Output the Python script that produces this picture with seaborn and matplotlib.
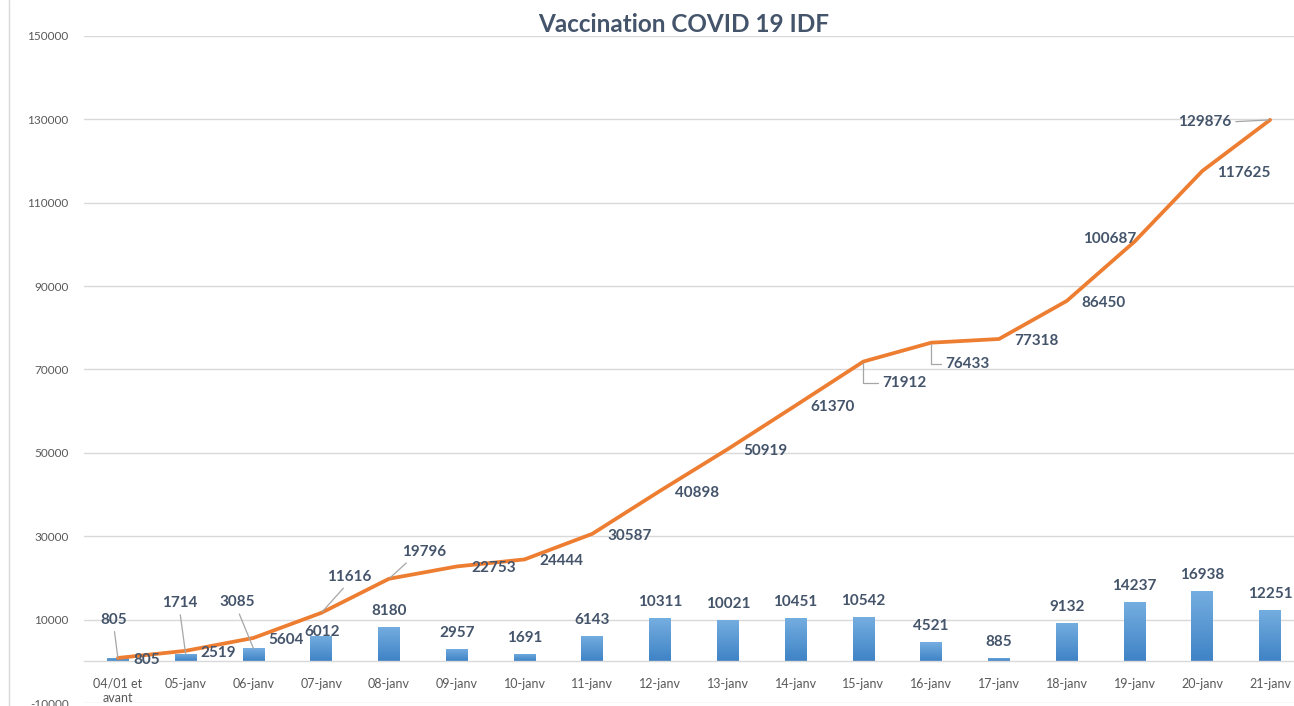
import numpy as np
import pandas as pd
import matplotlib
matplotlib.use("Agg")
import matplotlib.pyplot as plt
import seaborn as sns
from matplotlib.colors import LinearSegmentedColormap

# data
jours = ["04/01 et\navant", "05-janv", "06-janv", "07-janv", "08-janv", "09-janv",
         "10-janv", "11-janv", "12-janv", "13-janv", "14-janv", "15-janv",
         "16-janv", "17-janv", "18-janv", "19-janv", "20-janv", "21-janv"]
quotidien = [805, 1714, 3085, 6012, 8180, 2957, 1691, 6143, 10311, 10021,
             10451, 10542, 4521, 885, 9132, 14237, 16938, 12251]
cumul = [805, 2519, 5604, 11616, 19796, 22753, 24444, 30587, 40898, 50919,
         61370, 71912, 76433, 77318, 86450, 100687, 117625, 129876]
yticks = list(range(-10000, 150001, 20000))
titre = "Vaccination COVID 19 IDF"

df = pd.DataFrame({"jour": jours, "quotidien": quotidien, "cumul": cumul})

sns.set_theme(style="white")
plt.rcParams["font.family"] = ["Lato", "DejaVu Sans"]

LABEL = "#44546A"
TICK = "#595959"
GRID = "#D9D9D9"
LEADER = "#A6A6A6"

fig = plt.figure(figsize=(12.94, 7.06), dpi=100)
ax = fig.add_axes([84 / 1294, 3 / 706, 1220 / 1294, 667 / 706])

sns.barplot(data=df, x="jour", y="quotidien", color="#5B9BD5", width=0.32,
            errorbar=None, ax=ax, zorder=2)
sns.lineplot(data=df, x="jour", y="cumul", color="#ED7D31", linewidth=2.7,
             sort=False, ax=ax, zorder=4)

ax.set_xlim(-0.5, len(jours) - 0.5)
ax.set_ylim(-10000, 150000)

# gradient fill on bars (Excel style)
cmap = LinearSegmentedColormap.from_list("bleu", ["#3F83C6", "#75AEE0"])
grad = np.linspace(0, 1, 100).reshape(-1, 1)
for p in list(ax.patches):
    x0, y0 = p.get_x(), p.get_y()
    w, h = p.get_width(), p.get_height()
    im = ax.imshow(grad, extent=[x0, x0 + w, y0, y0 + h], origin="lower",
                   cmap=cmap, aspect="auto", zorder=2.5)
    im.set_clip_path(p)
    p.set_facecolor("none")
    p.set_edgecolor("none")
ax.set_xlim(-0.5, len(jours) - 0.5)
ax.set_ylim(-10000, 150000)

# axes styling
ax.set_yticks(yticks)
ax.set_yticklabels([str(v) for v in yticks])
ax.yaxis.grid(True, color=GRID, linewidth=1)
ax.xaxis.grid(False)
ax.set_axisbelow(True)
for s in ["top", "right", "left"]:
    ax.spines[s].set_visible(False)
ax.spines["bottom"].set_position(("data", 0))
ax.spines["bottom"].set_color(GRID)
ax.spines["bottom"].set_linewidth(1)
ax.tick_params(axis="y", length=0, pad=11, labelsize=8.5, labelcolor=TICK)
ax.tick_params(axis="x", length=0, pad=12, labelsize=9, labelcolor=TICK)
ax.set_xlabel("")
ax.set_ylabel("")

# bar labels: (dx, dy) in pixels, leader line flag
bar_pos = {0: (-4, 38, True), 1: (-6, 51, True), 2: (-16, 46, True), 3: (1, 4, False)}
for i, v in enumerate(quotidien):
    dx, dy, lead = bar_pos.get(i, (0, 16, False))
    kw = {}
    if lead:
        kw["arrowprops"] = dict(arrowstyle="-", color=LEADER, lw=0.9,
                                relpos=(0.5, 0), shrinkA=1, shrinkB=0)
    ax.annotate(str(v), xy=(i, v), xytext=(dx, dy), textcoords="offset pixels",
                ha="center", va="center", fontsize=11, fontweight="bold",
                color=LABEL, zorder=6, **kw)

# line labels
line_pos = {
    3: (6, 36, "left", dict(relpos=(0.45, 0))),
    4: (13, 27, "left", dict(relpos=(0.2, 0))),
    11: (19, -21, "left", dict(relpos=(0, 0.5), connectionstyle="angle,angleA=0,angleB=90,rad=0")),
    12: (14, -21, "left", dict(relpos=(0, 0.5), connectionstyle="angle,angleA=0,angleB=90,rad=0")),
    15: (-25, 3, "center", None),
    17: (-39, -2, "right", dict(relpos=(1, 0.5))),
}
for i, v in enumerate(cumul):
    dx, dy, ha, lead = line_pos.get(i, (15, -2, "left", None))
    kw = {}
    if lead is not None:
        kw["arrowprops"] = dict(arrowstyle="-", color=LEADER, lw=0.9,
                                shrinkA=1, shrinkB=1, **lead)
    ax.annotate(str(v), xy=(i, v), xytext=(dx, dy), textcoords="offset pixels",
                ha=ha, va="center", fontsize=11, fontweight="bold",
                color=LABEL, zorder=6, annotation_clip=False, **kw)

fig.text(684 / 1294, 1 - 25 / 706, titre, ha="center", va="center",
         fontsize=17.5, fontweight="bold", color=LABEL)
fig.add_artist(plt.Line2D([8.5 / 1294, 8.5 / 1294], [0, 1], color=GRID,
                          linewidth=1, transform=fig.transFigure))

fig.savefig("out.png", dpi=100)
